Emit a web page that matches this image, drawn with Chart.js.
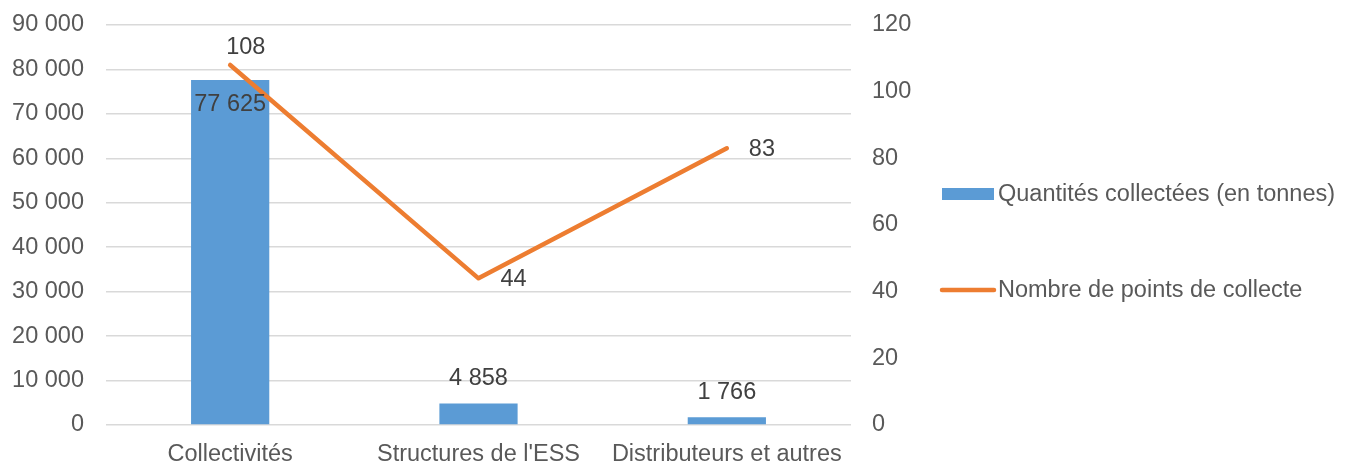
<!DOCTYPE html>
<html lang="fr">
<head>
<meta charset="utf-8">
<title>Collecte par type de détenteur</title>
<script src="https://cdn.jsdelivr.net/npm/chart.js@4.4.1/dist/chart.umd.min.js"></script>
<style>
  html, body { margin: 0; padding: 0; background: #fff; }
  #wrap { position: relative; width: 1345px; height: 463px; }
</style>
</head>
<body>
<div id="wrap"><canvas id="chart" width="1345" height="463"></canvas></div>
<script>
// Tonnages collectés et nombre de points de collecte par type de détenteur
var categories = ['Collectivités', "Structures de l'ESS", 'Distributeurs et autres'];
var tonnages = [77625, 4858, 1766];
var pointsCollecte = [108, 44, 83];
var leftTicks = [0, 10000, 20000, 30000, 40000, 50000, 60000, 70000, 80000, 90000];
var rightTicks = [0, 20, 40, 60, 80, 100, 120];

var FONT = '"Liberation Sans", Arial, sans-serif';
var FSIZE = 23.5;
var BLUE = '#5B9BD5';
var ORANGE = '#ED7D31';
var TICK_COLOR = '#595959';
var LABEL_COLOR = '#404040';

function fmtFr(v) {
  return String(Math.round(v)).replace(/\B(?=(\d{3})+(?!\d))/g, ' ');
}

// Étiquettes de valeurs : barres et points de la courbe
var valueLabels = {
  id: 'valueLabels',
  afterDatasetsDraw: function (chart) {
    var ctx = chart.ctx;
    ctx.save();
    ctx.font = FSIZE + 'px ' + FONT;
    ctx.fillStyle = LABEL_COLOR;
    ctx.textBaseline = 'middle';

    var bars = chart.getDatasetMeta(0).data;
    ctx.textAlign = 'center';
    bars.forEach(function (bar, i) {
      var v = tonnages[i];
      var inside = (bar.base - bar.y) > 60;
      var y = inside ? bar.y + 25 : bar.y - 25;
      ctx.fillText(fmtFr(v), bar.x, y);
    });

    var pts = chart.getDatasetMeta(1).data;
    ctx.textAlign = 'left';
    pts.forEach(function (p, i) {
      var v = pointsCollecte[i];
      if (i === 0) ctx.fillText(String(v), p.x - 4, p.y - 17);
      else ctx.fillText(String(v), p.x + 22, p.y + 1);
    });
    ctx.restore();
  }
};

// Légende à droite, dessinée à partir des jeux de données
var sideLegend = {
  id: 'sideLegend',
  afterDraw: function (chart) {
    var ctx = chart.ctx;
    var ds = chart.data.datasets;
    var x0 = 942, tx = 998;
    var rows = [194, 290];
    ctx.save();
    ctx.font = FSIZE + 'px ' + FONT;
    ctx.textBaseline = 'middle';
    ctx.textAlign = 'left';
    ds.forEach(function (d, i) {
      var y = rows[i];
      if (d.type === 'line') {
        ctx.strokeStyle = d.borderColor;
        ctx.lineWidth = 4.5;
        ctx.lineCap = 'round';
        ctx.beginPath();
        ctx.moveTo(x0, y);
        ctx.lineTo(x0 + 52, y);
        ctx.stroke();
      } else {
        ctx.fillStyle = d.backgroundColor;
        ctx.fillRect(x0, y - 6, 52, 12);
      }
      ctx.fillStyle = TICK_COLOR;
      ctx.fillText(d.label, tx, y + 1);
    });
    ctx.restore();
  }
};

// Axes verticaux : largeur fixe, pas de marge ajoutée pour les libellés extrêmes
function fixY(width) {
  return function (s) {
    s.width = width;
    s.paddingTop = 0;
    s.paddingBottom = 0;
  };
}

new Chart(document.getElementById('chart'), {
  data: {
    labels: categories,
    datasets: [
      {
        type: 'bar',
        label: 'Quantités collectées (en tonnes)',
        data: tonnages,
        backgroundColor: BLUE,
        yAxisID: 'y',
        barPercentage: 1,
        categoryPercentage: 0.315,
        order: 2
      },
      {
        type: 'line',
        label: 'Nombre de points de collecte',
        data: pointsCollecte,
        borderColor: ORANGE,
        backgroundColor: ORANGE,
        borderWidth: 4.5,
        borderCapStyle: 'round',
        borderJoinStyle: 'round',
        pointRadius: 0,
        tension: 0,
        yAxisID: 'y1',
        order: 1
      }
    ]
  },
  options: {
    responsive: false,
    animation: false,
    layout: { padding: { top: 25, left: 0, right: 0, bottom: 0 } },
    plugins: { legend: { display: false }, tooltip: { enabled: false } },
    scales: {
      x: {
        offset: true,
        grid: { display: false },
        border: { display: false },
        ticks: { color: TICK_COLOR, font: { family: FONT, size: FSIZE }, padding: 7, maxRotation: 0 },
        afterFit: function (s) { s.height = 38; s.paddingLeft = 0; s.paddingRight = 0; }
      },
      y: {
        position: 'left',
        min: 0, max: 90000,
        afterBuildTicks: function (s) { s.ticks = leftTicks.map(function (v) { return { value: v }; }); },
        grid: { color: '#D9D9D9', lineWidth: 1.5, drawTicks: false },
        border: { display: false },
        ticks: { color: TICK_COLOR, font: { family: FONT, size: FSIZE }, padding: 22,
                 callback: function (v) { return fmtFr(v); } },
        afterFit: fixY(106)
      },
      y1: {
        position: 'right',
        min: 0, max: 120,
        afterBuildTicks: function (s) { s.ticks = rightTicks.map(function (v) { return { value: v }; }); },
        grid: { display: false, drawTicks: false },
        border: { display: false },
        ticks: { color: TICK_COLOR, font: { family: FONT, size: FSIZE }, padding: 21 },
        afterFit: fixY(494)
      }
    }
  },
  plugins: [valueLabels, sideLegend]
});
</script>
</body>
</html>
